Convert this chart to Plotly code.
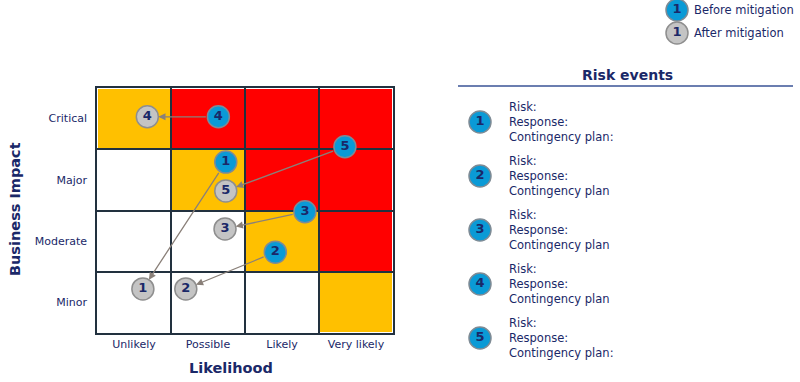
import plotly.graph_objects as go

# ---------------- data ----------------
likelihood = ["Unlikely", "Possible", "Likely", "Very likely"]
impact = ["Minor", "Moderate", "Major", "Critical"]
# severity level per cell (rows: Minor..Critical, cols: Unlikely..Very likely)
severity = [
    [0, 0, 0, 1],
    [0, 0, 1, 2],
    [0, 1, 2, 2],
    [1, 2, 2, 2],
]
risk_ids = [1, 2, 3, 4, 5]
before_x = [1.74, 2.41, 2.81, 1.64, 3.35]
before_y = [2.79, 1.32, 1.98, 3.53, 3.04]
after_x = [0.62, 1.20, 1.73, 0.68, 1.74]
after_y = [0.72, 0.72, 1.70, 3.53, 2.32]
legend_labels = ["Before mitigation", "After mitigation"]
risk_field_labels = [
    ["Risk:", "Response:", "Contingency plan:"],
    ["Risk:", "Response:", "Contingency plan"],
    ["Risk:", "Response:", "Contingency plan"],
    ["Risk:", "Response:", "Contingency plan"],
    ["Risk:", "Response:", "Contingency plan:"],
]

# ---------------- styles ----------------
NAVY = "#1a2868"
BLUE = "#0a9ad6"
GRAY = "#c4c4c4"
GRID = "#22313f"
ARROW = "#8a8079"
FONT = "DejaVu Sans"
W, H = 800, 382

fig = go.Figure()

fig.add_trace(go.Heatmap(
    z=severity,
    x=[i + 0.5 for i in range(len(likelihood))],
    y=[i + 0.5 for i in range(len(impact))],
    zmin=0, zmax=2,
    colorscale=[[0, "#ffffff"], [0.33, "#ffffff"], [0.33, "#ffc000"],
                [0.67, "#ffc000"], [0.67, "#ff0000"], [1, "#ff0000"]],
    showscale=False, xgap=2, ygap=2, hoverinfo="skip",
))

num_font = dict(family=FONT, size=13, color=NAVY, weight="bold")

# arrows before -> after
for bx, by, axx, ayy in zip(before_x, before_y, after_x, after_y):
    fig.add_annotation(
        x=axx, y=ayy, ax=bx, ay=by, xref="x", yref="y", axref="x", ayref="y",
        text="", showarrow=True, arrowhead=2, arrowsize=1.1, arrowwidth=1.3,
        arrowcolor=ARROW, standoff=11, startstandoff=11,
    )

fig.add_trace(go.Scatter(
    x=after_x, y=after_y, mode="markers+text", text=[str(i) for i in risk_ids],
    textposition="middle center", textfont=num_font,
    marker=dict(size=22, color=GRAY, line=dict(color="#8e8e8e", width=1.5)),
    hoverinfo="skip", showlegend=False,
))
fig.add_trace(go.Scatter(
    x=before_x, y=before_y, mode="markers+text", text=[str(i) for i in risk_ids],
    textposition="middle center", textfont=num_font,
    marker=dict(size=22, color=BLUE, line=dict(color="#7e8b95", width=1.5)),
    hoverinfo="skip", showlegend=False,
))

# ---------------- overlay (pixel-space) for legend and risk list ----------------
leg_x = 677
leg_y = [10, 33]
fig.add_trace(go.Scatter(
    x=[leg_x, leg_x], y=leg_y, mode="markers+text", text=["1", "1"],
    textposition="middle center", textfont=num_font,
    marker=dict(size=22, color=[BLUE, GRAY],
                line=dict(color=["#7e8b95", "#8e8e8e"], width=1.5)),
    xaxis="x2", yaxis="y2", hoverinfo="skip", showlegend=False,
))
for lbl, yy in zip(legend_labels, leg_y):
    fig.add_annotation(x=leg_x + 15, y=yy, xref="x2", yref="y2", text=lbl,
                       showarrow=False, xanchor="left", yanchor="middle",
                       font=dict(family=FONT, size=11.5, color=NAVY))

list_x = 480
list_y = [122 + 54 * i for i in range(len(risk_ids))]
fig.add_trace(go.Scatter(
    x=[list_x] * len(risk_ids), y=list_y, mode="markers+text",
    text=[str(i) for i in risk_ids], textposition="middle center", textfont=num_font,
    marker=dict(size=22, color=BLUE, line=dict(color="#7e8b95", width=1.5)),
    xaxis="x2", yaxis="y2", hoverinfo="skip", showlegend=False,
))
for labels, yy in zip(risk_field_labels, list_y):
    for k, t in enumerate(labels):
        fig.add_annotation(x=507, y=yy + (k - 1) * 14.7, xref="x2", yref="y2", text=t,
                           showarrow=False, xanchor="left", yanchor="middle",
                           font=dict(family=FONT, size=11.5, color=NAVY))

fig.add_annotation(x=627, y=75, xref="x2", yref="y2", text="<b>Risk events</b>",
                   showarrow=False, xanchor="center", yanchor="middle",
                   font=dict(family=FONT, size=14, color=NAVY))
fig.add_shape(type="line", x0=458, x1=793, y0=86, y1=86, xref="x2", yref="y2",
              line=dict(color="#3a5396", width=1.5))

# axis titles
fig.add_annotation(x=15, y=209, xref="x2", yref="y2", text="<b>Business Impact</b>",
                   textangle=-90, showarrow=False,
                   font=dict(family=FONT, size=14.5, color=NAVY))
fig.add_annotation(x=231, y=368, xref="x2", yref="y2", text="<b>Likelihood</b>",
                   showarrow=False, font=dict(family=FONT, size=14.5, color=NAVY))

x0, x1, yt, yb = 97, 393, 88, 333
grid_minor = dict(tickvals=[0, 1, 2, 3, 4], showgrid=True, gridcolor=GRID,
                  gridwidth=2, ticks="")
fig.update_layout(
    width=W, height=H, margin=dict(l=0, r=0, t=0, b=0),
    paper_bgcolor="white", plot_bgcolor="rgba(0,0,0,0)",
    xaxis=dict(domain=[x0 / W, x1 / W], range=[0, 4], tickvals=[0.5, 1.5, 2.5, 3.5],
               ticktext=likelihood, showgrid=False, zeroline=False, showline=True,
               mirror=True, linecolor=GRID, linewidth=1.5, ticks="",
               minor=grid_minor,
               tickfont=dict(family=FONT, size=11, color=NAVY), fixedrange=True),
    yaxis=dict(domain=[(H - yb) / H, (H - yt) / H], range=[0, 4],
               tickvals=[0.5, 1.5, 2.5, 3.5], ticktext=impact, showgrid=False,
               zeroline=False, showline=True, mirror=True, linecolor=GRID,
               linewidth=1.5, ticks="outside", ticklen=6, tickcolor="rgba(0,0,0,0)",
               minor=grid_minor,
               tickfont=dict(family=FONT, size=11, color=NAVY), fixedrange=True),
    xaxis2=dict(domain=[0, 1], range=[0, W], visible=False, fixedrange=True, anchor="y2"),
    yaxis2=dict(domain=[0, 1], range=[H, 0], visible=False, fixedrange=True, anchor="x2"),
    showlegend=False,
)

fig.write_html("out.html")
